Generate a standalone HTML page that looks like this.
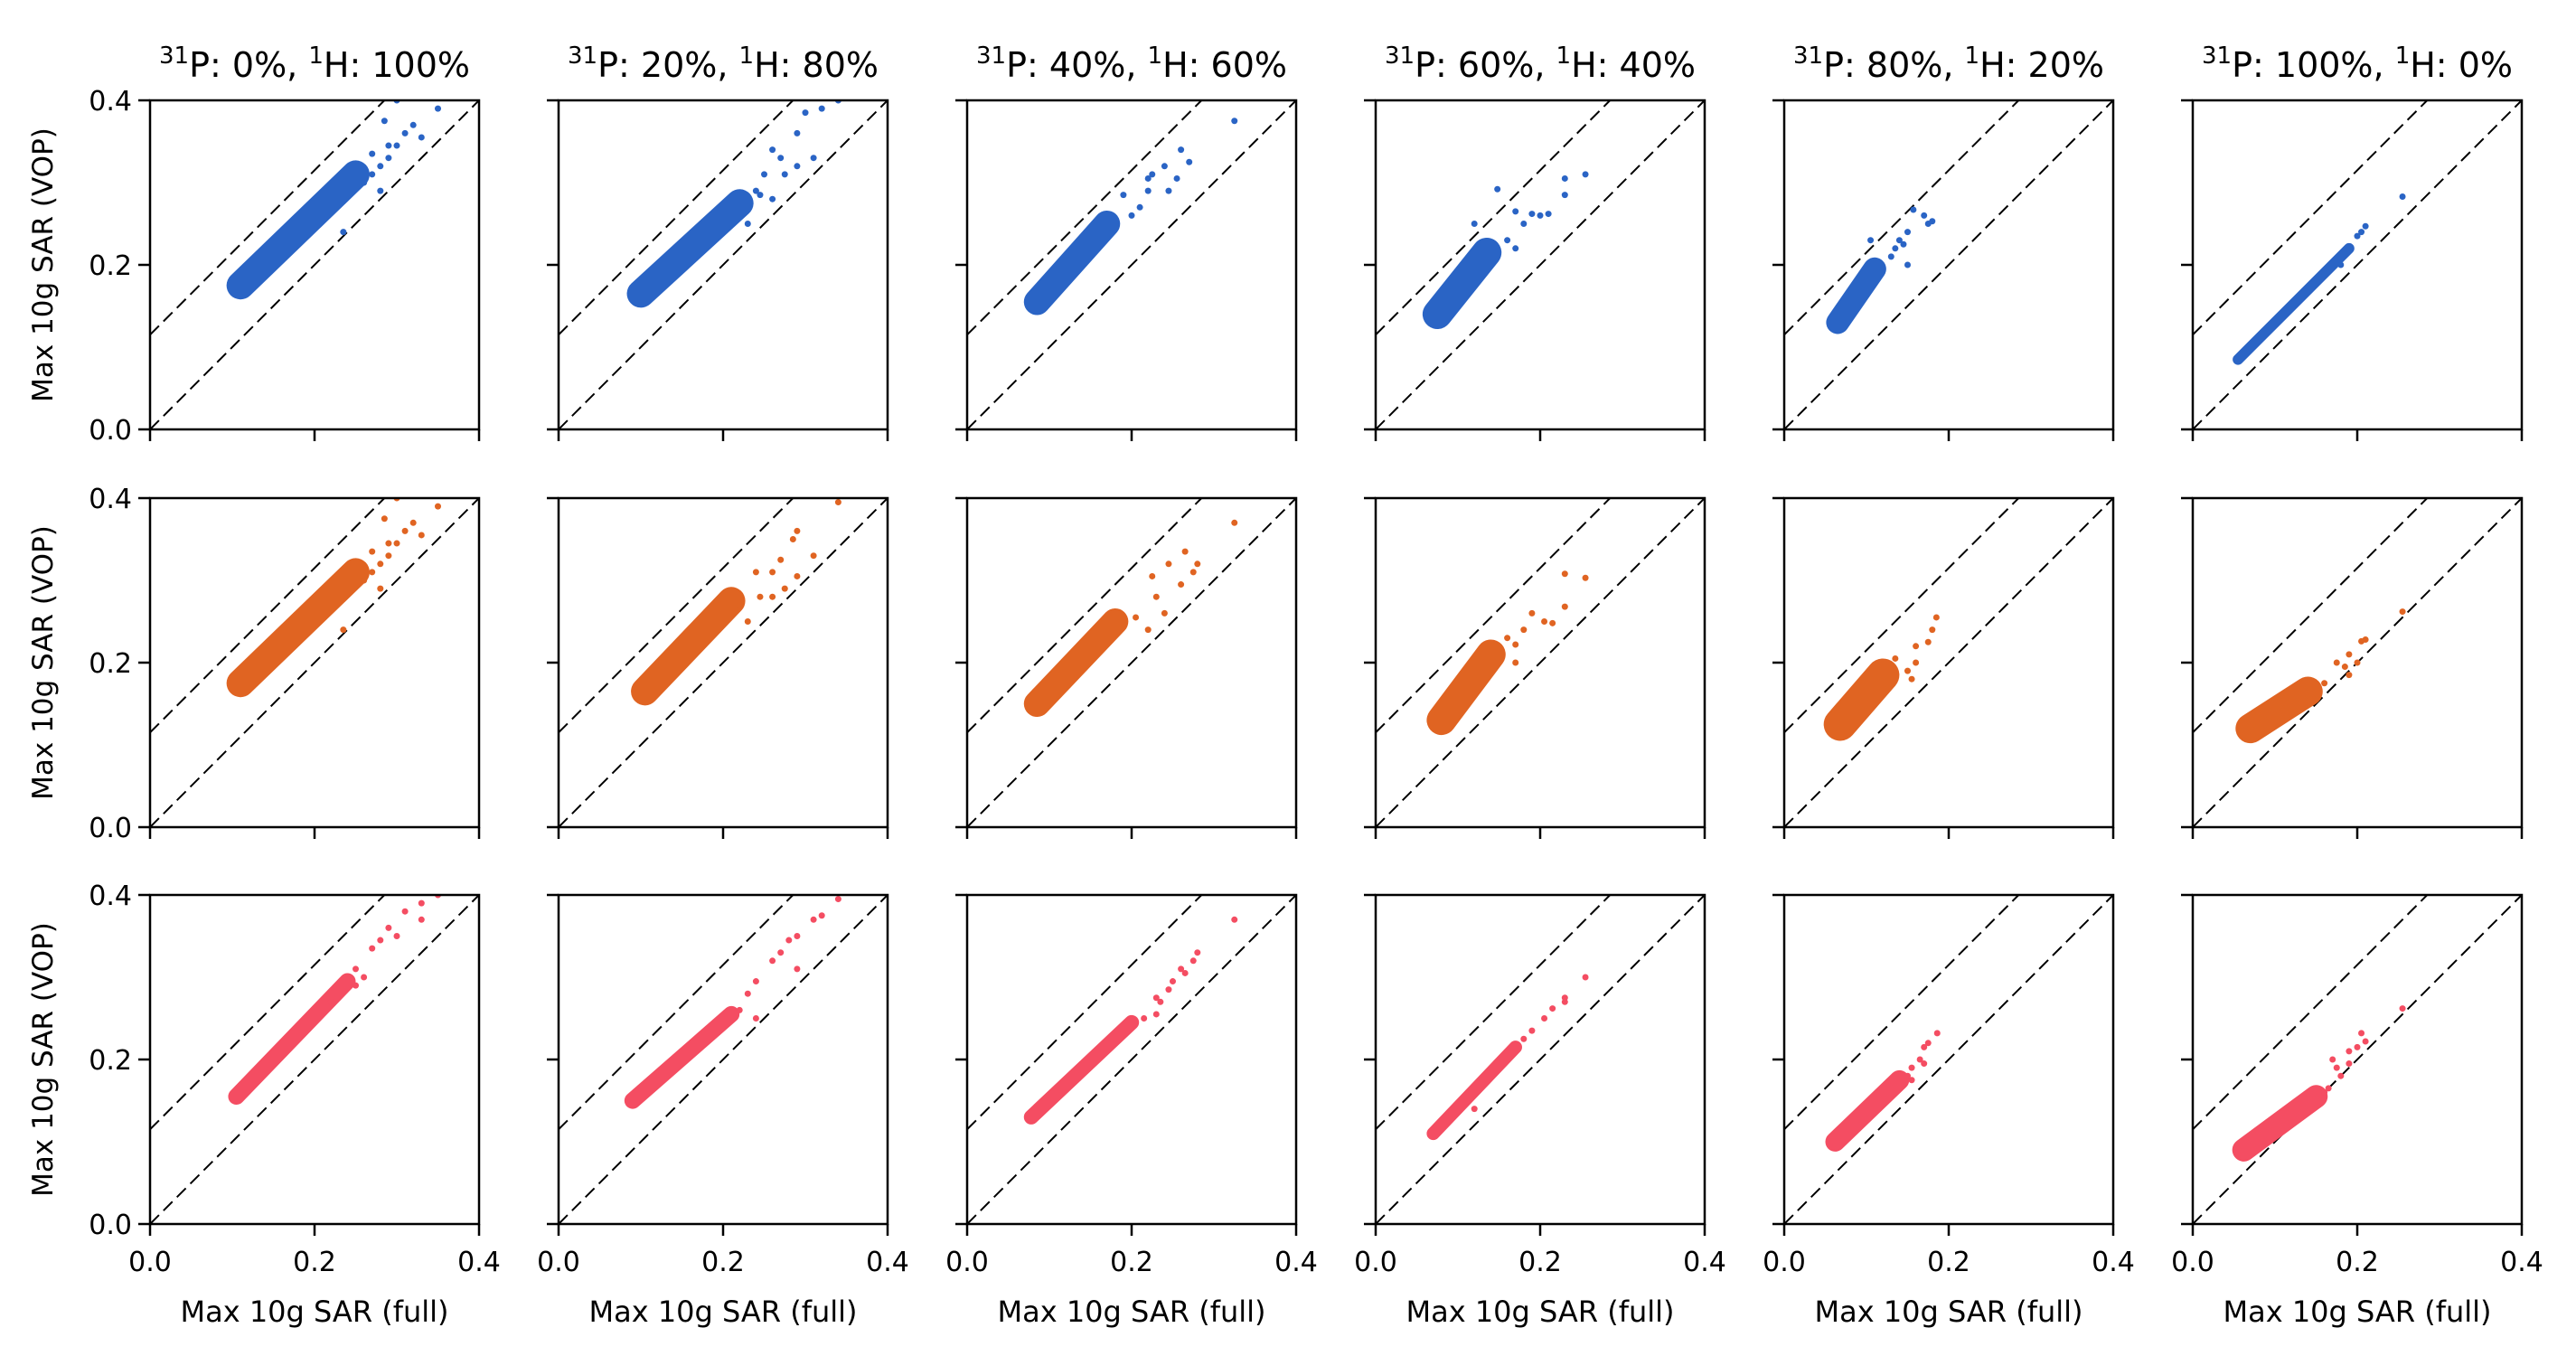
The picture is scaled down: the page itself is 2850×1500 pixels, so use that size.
<!DOCTYPE html>
<html><head><meta charset="utf-8">
<style>
html,body{margin:0;padding:0;background:#fff;}
svg{display:block;font-family:"DejaVu Sans","Liberation Sans",sans-serif;}
</style></head>
<body>
<svg id="fig" width="2850" height="1500" viewBox="0 0 2850 1500" xmlns="http://www.w3.org/2000/svg"></svg>
<script>
// ---- data ----
const titlesP = ["0%","20%","40%","60%","80%","100%"];
const titlesH = ["100%","80%","60%","40%","20%","0%"];
const tickValues = [0.0, 0.2, 0.4];
const tickLabels = ["0.0","0.2","0.4"];
const offsetLine = 0.115;
const rowColors = ["#2a64c5","#e06422","#f44d62"];
// core clouds: [x0,y0,x1,y1,thickness] per panel (row-major)
const cores = [
 [0.11,0.175,0.25,0.31,0.034],[0.10,0.165,0.22,0.275,0.034],[0.085,0.155,0.17,0.25,0.032],
 [0.075,0.14,0.135,0.215,0.036],[0.065,0.13,0.11,0.195,0.028],[0.055,0.085,0.19,0.22,0.013],
 [0.11,0.175,0.25,0.31,0.034],[0.105,0.165,0.21,0.275,0.034],[0.085,0.15,0.18,0.25,0.032],
 [0.08,0.13,0.14,0.21,0.036],[0.068,0.125,0.12,0.185,0.04],[0.07,0.12,0.14,0.165,0.036],
 [0.105,0.155,0.24,0.295,0.02],[0.09,0.15,0.21,0.255,0.02],[0.078,0.13,0.20,0.245,0.018],
 [0.07,0.11,0.17,0.215,0.016],[0.062,0.10,0.14,0.175,0.024],[0.062,0.09,0.15,0.155,0.028]
];
const outX = [
 [0.30,0.35,0.32,0.31,0.33,0.29,0.29,0.28,0.27,0.26,0.28,0.30,0.235,0.27,0.285],
 [0.34,0.32,0.30,0.29,0.31,0.26,0.27,0.275,0.29,0.25,0.24,0.26,0.245,0.23],
 [0.325,0.26,0.24,0.27,0.255,0.22,0.225,0.245,0.22,0.20,0.21,0.19],
 [0.255,0.23,0.23,0.148,0.21,0.19,0.17,0.20,0.18,0.17,0.12,0.16],
 [0.157,0.17,0.18,0.175,0.15,0.14,0.135,0.145,0.15,0.105,0.13],
 [0.255,0.21,0.20,0.205,0.18,0.16],
 [0.30,0.35,0.32,0.31,0.33,0.29,0.29,0.28,0.27,0.26,0.28,0.30,0.235,0.27,0.285],
 [0.34,0.29,0.285,0.31,0.27,0.29,0.275,0.26,0.26,0.245,0.23,0.24,0.22],
 [0.325,0.265,0.245,0.28,0.275,0.225,0.26,0.23,0.24,0.205,0.22],
 [0.23,0.255,0.23,0.19,0.205,0.215,0.17,0.17,0.16,0.18],
 [0.185,0.18,0.175,0.16,0.16,0.135,0.15,0.155],
 [0.255,0.21,0.205,0.175,0.19,0.185,0.19,0.16,0.20],
 [0.25,0.27,0.28,0.29,0.31,0.33,0.35,0.33,0.26,0.25,0.22,0.30],
 [0.23,0.24,0.26,0.27,0.28,0.29,0.31,0.32,0.34,0.29,0.24,0.22],
 [0.325,0.28,0.275,0.26,0.265,0.25,0.245,0.23,0.235,0.23,0.215],
 [0.255,0.23,0.23,0.215,0.205,0.19,0.18,0.12],
 [0.186,0.175,0.17,0.165,0.17,0.155,0.15,0.155],
 [0.255,0.205,0.21,0.20,0.19,0.19,0.17,0.175,0.18,0.165,0.16]
];
const outY = [
 [0.40,0.39,0.37,0.36,0.355,0.345,0.33,0.32,0.31,0.30,0.29,0.345,0.24,0.335,0.375],
 [0.40,0.39,0.385,0.36,0.33,0.34,0.33,0.31,0.32,0.31,0.29,0.28,0.285,0.25],
 [0.375,0.34,0.32,0.325,0.305,0.305,0.31,0.29,0.29,0.26,0.27,0.285],
 [0.31,0.305,0.285,0.292,0.262,0.262,0.265,0.26,0.25,0.22,0.25,0.23],
 [0.267,0.26,0.253,0.25,0.24,0.23,0.22,0.225,0.20,0.23,0.21],
 [0.283,0.247,0.235,0.24,0.20,0.19],
 [0.40,0.39,0.37,0.36,0.355,0.345,0.33,0.32,0.31,0.30,0.29,0.345,0.24,0.335,0.375],
 [0.395,0.36,0.35,0.33,0.325,0.305,0.29,0.31,0.28,0.28,0.25,0.31,0.27],
 [0.37,0.335,0.32,0.32,0.31,0.305,0.295,0.28,0.26,0.255,0.24],
 [0.308,0.303,0.268,0.26,0.25,0.248,0.222,0.20,0.23,0.24],
 [0.255,0.24,0.225,0.22,0.20,0.205,0.19,0.18],
 [0.262,0.228,0.226,0.20,0.21,0.195,0.185,0.175,0.20],
 [0.31,0.335,0.345,0.36,0.38,0.39,0.40,0.37,0.30,0.29,0.27,0.35],
 [0.28,0.295,0.32,0.33,0.345,0.35,0.37,0.375,0.395,0.31,0.25,0.26],
 [0.37,0.33,0.32,0.31,0.305,0.295,0.285,0.275,0.27,0.255,0.25],
 [0.30,0.275,0.27,0.262,0.25,0.235,0.225,0.14],
 [0.232,0.22,0.215,0.20,0.195,0.19,0.18,0.175],
 [0.262,0.232,0.222,0.215,0.21,0.195,0.20,0.19,0.18,0.165,0.16]
];

// ---- layout ----
const NS="http://www.w3.org/2000/svg";
const svg=document.getElementById('fig');
const colLeft=[166,618,1070,1522,1974,2426];
const rowTop=[111,551,990];
const W=364,H=364,XMAX=0.4;
function mk(tag,attrs,parent){const e=document.createElementNS(NS,tag);for(const k in attrs)e.setAttribute(k,attrs[k]);(parent||svg).appendChild(e);return e;}

for(let r=0;r<3;r++){
 for(let c=0;c<6;c++){
  const L=colLeft[c],T=rowTop[r];
  const sx=v=>L+v/XMAX*W;
  const sy=v=>T+H-v/XMAX*H;
  const g=mk('g',{});
  
  
  const cid='clip'+r+'_'+c;
  const cp=mk('clipPath',{id:cid},g);
  mk('rect',{x:L,y:T,width:W,height:H},cp);
  const inner=mk('g',{'clip-path':'url(#'+cid+')'},g);
  const d1=mk('line',{x1:sx(0),y1:sy(0),x2:sx(XMAX),y2:sy(XMAX),stroke:'#000','stroke-width':2,'stroke-dasharray':'14 7'},inner);
  
  
  const d2=mk('line',{x1:sx(0),y1:sy(offsetLine),x2:sx(XMAX-offsetLine),y2:sy(XMAX),stroke:'#000','stroke-width':2,'stroke-dasharray':'14 7'},inner);
  
  
  const i=r*6+c, col=rowColors[r];
  const cr=cores[i];
  const band=mk('line',{x1:sx(cr[0]),y1:sy(cr[1]),x2:sx(cr[2]),y2:sy(cr[3]),stroke:col,'stroke-width':cr[4]/XMAX*W,'stroke-linecap':'round'},inner);
  
  
  for(let k=0;k<outX[i].length;k++){
   const p=mk('circle',{cx:sx(outX[i][k]),cy:sy(outY[i][k]),r:3.5,fill:col},inner);
   
   
  }
  const fr=mk('rect',{x:L,y:T,width:W,height:H,fill:'none',stroke:'#000','stroke-width':2.5},g);
  
  
  for(let t=0;t<tickValues.length;t++){
   const v=tickValues[t];
   mk('line',{x1:sx(v),y1:T+H,x2:sx(v),y2:T+H+13,stroke:'#000','stroke-width':2.5},g);
   mk('line',{x1:L-13,y1:sy(v),x2:L,y2:sy(v),stroke:'#000','stroke-width':2.5},g);
   if(c===0){
    const tl=mk('text',{x:L-20,y:sy(v)+11,'text-anchor':'end','font-size':30},g);
    tl.textContent=tickLabels[t];
    
    
   }
   if(r===2){
    const tl=mk('text',{x:sx(v),y:T+H+52,'text-anchor':'middle','font-size':30},g);
    tl.textContent=tickLabels[t];
    
    
   }
  }
  if(r===0){
   const tt=mk('text',{x:L+W/2,y:85,'text-anchor':'middle','font-size':38},g);
   tt.innerHTML='<tspan font-size="26" dy="-15">31</tspan><tspan dy="15">P: '+titlesP[c]+', </tspan><tspan font-size="26" dy="-15">1</tspan><tspan dy="15">H: '+titlesH[c]+'</tspan>';
   
   
  }
  if(c===0){
   const yl=mk('text',{x:0,y:0,'text-anchor':'middle','font-size':31,transform:'translate(58,'+(T+H/2)+') rotate(-90)'},g);
   yl.textContent='Max 10g SAR (VOP)';
   
   
  }
  if(r===2){
   const xl=mk('text',{x:L+W/2,y:1462,'text-anchor':'middle','font-size':32},g);
   xl.textContent='Max 10g SAR (full)';
   
   
  }
 }
}
</script>
</body></html>
